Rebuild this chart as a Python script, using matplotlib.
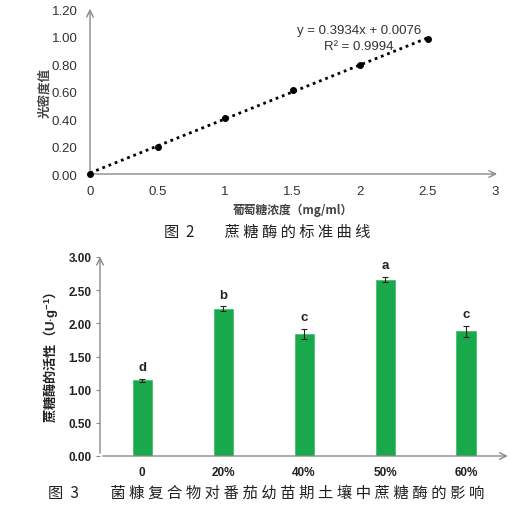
import matplotlib
matplotlib.use("Agg")
import matplotlib.pyplot as plt
import numpy as np

plt.rcParams['font.family'] = ['Liberation Sans', 'Noto Sans CJK SC', 'DejaVu Sans']
plt.rcParams['mathtext.fontset'] = 'custom'
plt.rcParams['mathtext.rm'] = 'Liberation Sans'
plt.rcParams['mathtext.bf'] = 'Liberation Sans:bold'
CJK = ['Noto Sans CJK SC', 'DejaVu Sans']

# ---- data: standard curve ----
conc = [0, 0.5, 1.0, 1.5, 2.0, 2.5]
od = [0.0, 0.20, 0.405, 0.61, 0.795, 0.98]
slope, intercept = 0.3934, 0.0076
eq_text = "y = 0.3934x + 0.0076"
r2_text = "R² = 0.9994"
x_ticks_top = [0, 0.5, 1, 1.5, 2, 2.5, 3]
x_tick_labels_top = ["0", "0.5", "1", "1.5", "2", "2.5", "3"]
y_ticks_top = [0.0, 0.2, 0.4, 0.6, 0.8, 1.0, 1.2]

# ---- data: enzyme activity ----
treatments = ["0", "20%", "40%", "50%", "60%"]
activity = [1.14, 2.22, 1.84, 2.66, 1.88]
errors = [0.02, 0.04, 0.08, 0.04, 0.08]
letters = ["d", "b", "c", "a", "c"]
y_ticks_bot = [0.0, 0.5, 1.0, 1.5, 2.0, 2.5, 3.0]

caption2 = "图  2         蔗 糖 酶 的 标 准 曲 线"
caption3 = "图  3         菌 糠 复 合 物 对 番 茄 幼 苗 期 土 壤 中 蔗 糖 酶 的 影 响"

fig = plt.figure(figsize=(5.27, 5.10), dpi=100)
axis_col = '#8a8a8a'

# ---------------- top chart ----------------
ax1 = fig.add_axes([90/527, 1-175/510, 405/527, 164.7/510])
ax1.set_xlim(0, 3)
ax1.set_ylim(0, 1.2)
for s in ax1.spines.values():
    s.set_visible(False)
ax1.annotate('', xy=(1.012, 0), xytext=(0, 0), xycoords='axes fraction',
             arrowprops=dict(arrowstyle='->', color=axis_col, lw=1.0, mutation_scale=12))
ax1.annotate('', xy=(0, 1.02), xytext=(0, 0), xycoords='axes fraction',
             arrowprops=dict(arrowstyle='->', color=axis_col, lw=1.0, mutation_scale=12))
xs = np.array([conc[0], conc[-1]])
ax1.plot(xs, slope*xs + intercept, color='black', lw=2.0, linestyle=(0, (1, 1.4)))
ax1.plot(conc, od, 'o', color='black', ms=4, zorder=3, clip_on=False)
ax1.set_xticks(x_ticks_top)
ax1.set_xticklabels(x_tick_labels_top)
ax1.set_yticks(y_ticks_top)
ax1.set_yticklabels([f"{v:.2f}" for v in y_ticks_top])
ax1.tick_params(length=0, labelsize=9.5, colors='#333333', pad=8)
ax1.tick_params(axis='y', pad=9)
ax1.text(1.99, 1.049, eq_text, ha='center', va='center', fontsize=9.5, color='#333333')
ax1.text(1.99, 0.933, r2_text, ha='center', va='center', fontsize=9.5, color='#333333')
ax1.set_xlabel("葡萄糖浓度（mg/ml）", family=CJK, fontsize=8.5, fontweight='bold',
               color='#444444', labelpad=4)
ax1.set_ylabel("光密度值", family=CJK, fontsize=9, fontweight='bold', color='#444444', labelpad=0.5)
fig.text(267/527, 1-232/510, caption2, family=CJK, fontsize=11,
         ha='center', va='center', color='#222222', fontweight='light')

# ---------------- bottom chart ----------------
ax2 = fig.add_axes([100/527, 1-457/510, 406.5/527, 199/510])
ax2.set_xlim(-0.52, 4.5)
ax2.set_ylim(0, 3.0)
for s in ax2.spines.values():
    s.set_visible(False)
ax2.annotate('', xy=(1.01, 0), xytext=(0, 0), xycoords='axes fraction',
             arrowprops=dict(arrowstyle='->', color=axis_col, lw=1.0, mutation_scale=12))
ax2.annotate('', xy=(0, 1.015), xytext=(0, 0), xycoords='axes fraction',
             arrowprops=dict(arrowstyle='->', color=axis_col, lw=1.0, mutation_scale=12))
x = np.arange(len(treatments))
ax2.bar(x, activity, width=0.235, color='#19a94a', edgecolor='#3dbb63', lw=0.5, zorder=2)
ax2.errorbar(x, activity, yerr=errors, fmt='none', ecolor='#222222', elinewidth=0.8,
             capsize=2.5, capthick=0.8, zorder=3)
for xi, v, e, l in zip(x, activity, errors, letters):
    ax2.annotate(l, xy=(xi, v + e), xytext=(0, 4), textcoords='offset points',
                 ha='center', va='bottom', fontsize=9.5, fontweight='bold', color='#222222')
ax2.set_xticks(x)
ax2.set_xticklabels(treatments, fontweight='bold')
ax2.set_yticks(y_ticks_bot)
ax2.set_yticklabels([f"{v:.2f}" for v in y_ticks_bot], fontweight='bold')
ax2.tick_params(axis='x', length=0, labelsize=8.5, pad=7, colors='#222222')
ax2.tick_params(axis='y', length=3, width=0.8, color=axis_col, labelsize=8.5, pad=3, labelcolor='#222222')
ax2.set_ylabel(r"蔗糖酶的活性（$\mathbf{U{\cdot}g^{-1}}$）", family=CJK, fontsize=9.5,
               fontweight='bold', color='#222222', labelpad=6)
fig.text(266/527, 1-493/510, caption3, family=CJK,
         fontsize=11.05, ha='center', va='center', color='#222222', fontweight='light')

fig.savefig("out.png", dpi=100)
